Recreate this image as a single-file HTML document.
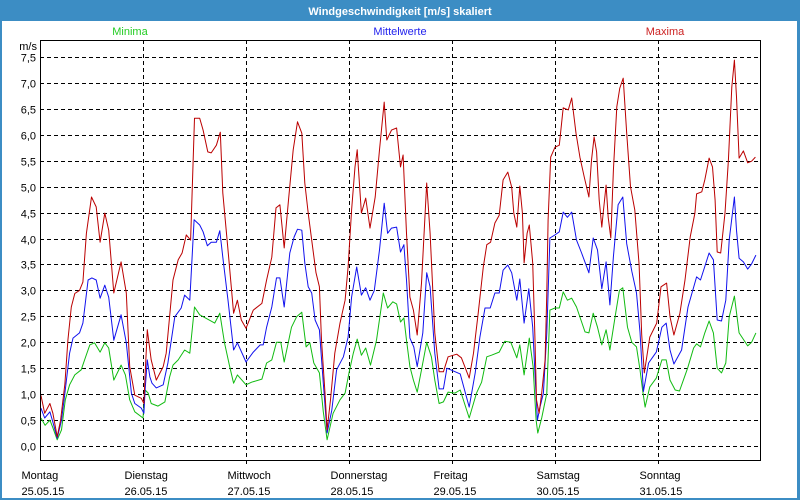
<!DOCTYPE html>
<html><head><meta charset="utf-8"><style>
html,body{margin:0;padding:0;background:#fff;}
#wrap{position:relative;width:800px;height:500px;overflow:hidden;font-family:"Liberation Sans",sans-serif;}
</style></head><body>
<div id="wrap">
<svg id="chart" width="800" height="500" xmlns="http://www.w3.org/2000/svg">
<rect x="0" y="0" width="800" height="500" fill="#3c8dc4"/>
<rect x="2" y="21" width="795" height="477" fill="#ffffff"/>
<text x="400" y="15" text-anchor="middle" font-size="11" font-weight="bold" fill="#ffffff" font-family="Liberation Sans, sans-serif">Windgeschwindigkeit [m/s] skaliert</text>
<text x="130" y="35" text-anchor="middle" font-size="11" fill="#22cc22">Minima</text>
<text x="400" y="35" text-anchor="middle" font-size="11" fill="#2222ee">Mittelwerte</text>
<text x="665" y="35" text-anchor="middle" font-size="11" fill="#cc2222">Maxima</text>
<text x="37" y="50" text-anchor="end" font-size="11" fill="#000">m/s</text>
<g id="grid" shape-rendering="crispEdges"></g>
<g id="series"></g>
<g id="axes"></g>
</svg>
</div>
<script>
const yTicks=[0,0.5,1,1.5,2,2.5,3,3.5,4,4.5,5,5.5,6,6.5,7,7.5];
const yTickLabels=["0,0","0,5","1,0","1,5","2,0","2,5","3,0","3,5","4,0","4,5","5,0","5,5","6,0","6,5","7,0","7,5"];
const dayNames=["Montag","Dienstag","Mittwoch","Donnerstag","Freitag","Samstag","Sonntag"];
const dayDates=["25.05.15","26.05.15","27.05.15","28.05.15","29.05.15","30.05.15","31.05.15"];

const maxHours=[0.2,1.1,2.3,3.0,4.0,4.8,5.8,6.5,7.3,8.1,9.2,10.0,10.8,12.0,13.1,14.0,15.1,16.0,17.2,18.9,20.1,20.9,22.1,23.6,24.2,24.5,25.0,25.9,27.1,28.7,29.4,31.0,32.2,33.1,34.1,35.1,36.0,37.2,38.0,39.1,39.9,41.1,42.0,42.6,43.8,45.1,46.0,46.9,48.0,49.7,51.7,52.8,54.0,55.0,55.9,56.9,57.9,59.0,60.0,61.0,61.7,62.5,63.3,64.3,65.1,65.6,66.4,66.9,67.7,68.7,69.9,71.1,71.8,72.6,73.4,73.9,74.9,75.9,76.9,78.1,79.1,80.2,80.8,81.9,83.1,84.0,84.6,85.4,86.2,87.0,87.9,88.9,90.1,90.9,92.0,93.0,94.0,95.1,97.1,98.2,100.0,101.0,102.1,103.3,104.1,105.0,106.0,107.0,107.9,109.0,109.9,110.4,111.1,111.8,112.4,112.8,113.5,114.0,114.8,115.3,115.7,116.3,116.9,117.7,118.1,118.4,119.0,120.0,121.0,121.9,123.1,123.9,124.9,125.8,126.8,127.9,128.5,129.1,129.7,130.3,130.9,131.3,131.9,132.4,133.0,133.6,134.4,135.1,135.9,136.7,137.6,138.6,139.6,140.2,140.8,142.1,143.7,144.7,146.0,146.8,147.7,149.1,150.3,151.5,152.6,153.0,154.2,154.9,155.9,156.7,157.3,157.8,158.6,159.6,160.4,161.2,161.8,162.3,162.9,163.9,164.9,165.8,166.7];
const maxValues=[0.98,0.63,0.82,0.63,0.18,0.5,1.2,2.04,2.68,2.94,3.0,3.16,4.1,4.8,4.61,3.93,4.49,4.16,2.95,3.55,2.95,1.53,0.98,0.92,0.82,1.37,2.24,1.66,1.27,1.53,1.79,3.2,3.59,3.72,4.07,3.97,6.32,6.32,6.09,5.67,5.65,5.8,6.05,4.88,3.78,2.56,2.81,2.43,2.27,2.62,2.75,3.2,3.64,4.59,4.65,3.82,4.74,5.71,6.25,6.03,5.07,4.49,3.97,3.34,3.07,2.04,1.02,0.31,0.89,1.79,2.37,2.81,3.45,4.55,5.38,5.71,4.49,4.78,4.2,4.8,5.71,6.63,5.9,6.09,6.13,5.38,5.61,4.1,2.87,2.62,2.14,3.14,5.07,4.1,2.18,1.43,1.43,1.72,1.77,1.7,1.31,1.79,2.56,3.45,3.88,3.93,4.3,4.45,5.13,5.28,4.99,4.49,4.22,5.01,4.49,3.53,4.1,4.26,3.53,2.18,0.89,0.63,1.02,1.66,2.95,4.36,5.57,5.76,5.8,6.52,6.48,6.71,6.03,5.57,5.19,4.8,5.51,5.96,5.67,4.74,4.22,4.55,5.03,4.41,4.01,5.32,6.54,6.9,7.09,6.03,5.0,4.55,3.5,2.15,1.41,2.1,2.37,3.07,3.14,2.49,2.14,2.56,3.2,4.03,4.49,4.86,4.9,5.13,5.55,5.38,4.74,3.74,3.72,4.49,5.51,6.92,7.44,6.73,5.55,5.69,5.46,5.49,5.57];

const meanHours=[0.2,1.1,2.3,3.0,4.0,5.0,5.8,6.9,7.7,9.2,10.0,11.2,12.1,13.1,14.0,15.1,16.0,17.2,18.9,20.1,21.3,22.1,23.6,24.2,24.5,25.0,25.6,26.1,27.1,28.7,29.8,31.4,32.9,33.7,34.9,35.9,37.2,38.0,39.0,39.9,41.1,41.9,42.6,43.8,45.1,46.0,48.0,49.7,51.3,52.0,52.8,54.0,55.1,55.9,56.9,58.2,59.2,60.0,61.0,61.7,62.5,63.3,64.1,65.1,66.0,66.9,68.0,69.1,70.7,71.8,72.6,73.8,74.9,75.9,76.9,77.9,79.1,80.2,81.0,81.9,83.1,84.0,84.8,85.4,86.2,87.1,87.9,89.2,90.1,90.9,92.0,93.0,94.0,94.8,97.9,100.0,101.4,102.5,103.7,104.9,106.0,107.0,107.9,109.0,109.9,111.1,111.8,112.8,113.9,114.8,115.3,115.9,116.5,117.3,118.1,118.8,120.0,121.0,121.9,122.9,123.9,125.0,126.2,127.9,128.9,129.9,130.9,131.9,132.8,133.6,134.7,135.8,136.7,137.9,139.0,139.8,140.6,141.8,143.6,144.9,145.9,146.8,147.7,149.5,151.0,153.0,153.9,155.9,156.9,157.8,158.8,159.8,160.6,161.8,162.3,162.9,163.9,164.9,165.8,166.8];
const meanValues=[0.73,0.54,0.66,0.46,0.15,0.5,1.02,1.79,2.08,2.18,2.37,3.2,3.24,3.2,2.85,3.1,2.87,2.04,2.53,1.99,1.02,0.82,0.73,0.63,1.08,1.66,1.33,1.21,1.12,1.18,1.6,2.49,2.66,2.91,2.81,4.36,4.26,4.13,3.86,3.93,3.93,4.15,3.64,2.81,1.85,1.99,1.62,1.81,1.95,1.95,2.29,2.68,3.24,3.24,2.68,3.72,4.03,4.18,4.16,3.53,3.07,2.95,2.43,2.24,1.21,0.25,0.69,1.47,1.72,2.1,2.87,3.45,2.91,3.05,2.81,3.0,3.78,4.68,4.1,4.2,4.22,3.74,3.88,3.2,2.08,1.91,1.53,2.18,3.34,3.07,1.79,1.1,1.1,1.5,1.39,0.75,1.41,2.1,2.66,2.66,2.95,2.95,3.39,3.49,3.34,2.81,3.22,2.37,3.03,2.29,1.47,0.5,0.75,1.02,2.18,4.01,4.07,4.13,4.51,4.41,4.51,3.97,3.72,3.34,4.01,3.78,3.03,3.55,2.72,3.65,4.65,4.8,3.9,3.37,2.95,2.2,1.05,1.6,1.81,2.29,2.37,1.85,1.58,1.85,2.68,3.26,3.2,3.72,3.59,2.43,2.41,2.81,3.97,4.8,4.16,3.62,3.55,3.41,3.51,3.68];

const minHours=[0.2,1.2,2.3,3.0,4.0,5.0,5.9,6.9,8.1,9.6,10.4,11.6,12.7,14.0,15.1,16.0,17.2,18.9,19.9,20.9,22.1,24.0,24.5,25.2,25.9,27.5,29.1,30.2,31.0,32.2,33.7,34.9,36.0,37.2,40.7,41.9,43.0,44.2,45.1,46.0,48.0,49.3,51.7,52.8,54.0,55.1,56.1,56.9,58.6,59.8,61.0,62.0,62.9,63.8,65.1,66.0,66.9,68.3,69.9,71.1,72.0,73.0,73.9,74.9,75.9,77.0,78.4,80.0,81.0,82.2,83.1,84.0,84.8,85.4,86.2,87.0,87.9,88.9,90.1,91.2,92.0,93.0,94.0,95.1,96.7,97.9,100.0,101.7,102.9,104.1,105.2,107.0,108.3,109.7,111.1,111.8,112.8,114.0,114.9,115.6,116.0,116.9,118.1,118.8,120.0,121.0,121.9,122.9,123.9,125.0,127.0,127.9,128.9,129.9,130.9,131.9,132.8,134.0,135.0,135.8,136.9,137.9,139.0,139.8,140.4,141.0,142.1,143.6,144.9,145.9,146.8,148.0,149.0,150.9,152.3,153.0,153.9,154.9,155.9,156.9,157.8,158.8,159.8,160.6,161.8,162.9,164.9,165.8,166.8];
const minValues=[0.54,0.4,0.5,0.35,0.12,0.31,0.89,1.18,1.37,1.47,1.66,1.95,1.99,1.81,1.99,1.89,1.27,1.56,1.37,0.89,0.66,0.54,1.08,1.02,0.82,0.77,0.85,1.33,1.56,1.66,1.85,1.79,2.68,2.53,2.37,2.56,1.99,1.53,1.21,1.37,1.18,1.23,1.29,1.6,1.66,2.0,2.0,1.62,2.29,2.49,2.58,1.91,1.99,1.6,1.41,0.66,0.12,0.63,0.89,1.02,1.41,1.79,2.06,1.75,1.89,1.56,2.04,2.95,2.66,2.78,2.74,2.39,2.47,2.04,1.53,1.27,1.04,1.47,2.0,1.72,1.27,0.82,0.85,1.04,1.02,1.08,0.54,1.02,1.23,1.72,1.75,1.81,2.02,2.0,1.7,1.95,1.37,2.08,1.53,0.5,0.25,0.54,1.02,2.62,2.66,2.66,2.97,2.81,2.85,2.68,2.2,2.18,2.56,2.29,1.95,2.24,1.85,2.49,3.0,3.05,2.29,2.0,1.91,1.47,1.08,0.75,1.14,1.31,1.66,1.66,1.27,1.08,1.06,1.5,1.89,1.97,1.91,2.18,2.41,2.18,1.5,1.41,1.6,2.49,2.89,2.18,1.93,2.0,2.18];

const NS="http://www.w3.org/2000/svg";
const L=40,R=760,T=40,B=460;
function xScale(h){return L+h*(103/24);}
function yScale(v){return 446-v*51.87;}
const grid=document.getElementById('grid');
const axes=document.getElementById('axes');
const series=document.getElementById('series');
function mk(tag,attrs,parent){const e=document.createElementNS(NS,tag);for(const k in attrs)e.setAttribute(k,attrs[k]);parent.appendChild(e);return e;}

yTicks.forEach((v,i)=>{
  const y=Math.round(yScale(v))+0.5;
  const ln=mk('line',{x1:L,x2:R,y1:y,y2:y,stroke:'#000','stroke-width':1,'stroke-dasharray':'4,3'},grid);
  
  
  const t=mk('text',{x:36,y:y+4,'text-anchor':'end','font-size':11,fill:'#000'},axes);
  t.textContent=yTickLabels[i];
  
  
});
dayNames.forEach((d,i)=>{
  const x=Math.round(xScale(i*24))+0.5;
  if(i>0){
    const ln=mk('line',{x1:x,x2:x,y1:T,y2:B+5,stroke:'#000','stroke-width':1,'stroke-dasharray':'4,3'},grid);
    
    
  }
  const t1=mk('text',{x:x-19,y:479,'font-size':11,fill:'#000'},axes);
  t1.textContent=d;
  
  
  const t2=mk('text',{x:x-19,y:495,'font-size':11,fill:'#000'},axes);
  t2.textContent=dayDates[i];
  
  
});
const frame=mk('rect',{x:L+0.5,y:T+0.5,width:R-L,height:B-T,fill:'none',stroke:'#000','stroke-width':1,'shape-rendering':'crispEdges'},axes);



function drawLine(hours,vals,color,name){
  const pts=hours.map((h,i)=>xScale(h).toFixed(1)+','+yScale(vals[i]).toFixed(1)).join(' ');
  const p=mk('polyline',{points:pts,fill:'none',stroke:color,'stroke-width':1,'stroke-linejoin':'round'},series);
  
  
}
drawLine(minHours,minValues,'#11bb11','minima-line');
drawLine(meanHours,meanValues,'#1111ee','mittelwerte-line');
drawLine(maxHours,maxValues,'#bb0000','maxima-line');
</script>
</body></html>
